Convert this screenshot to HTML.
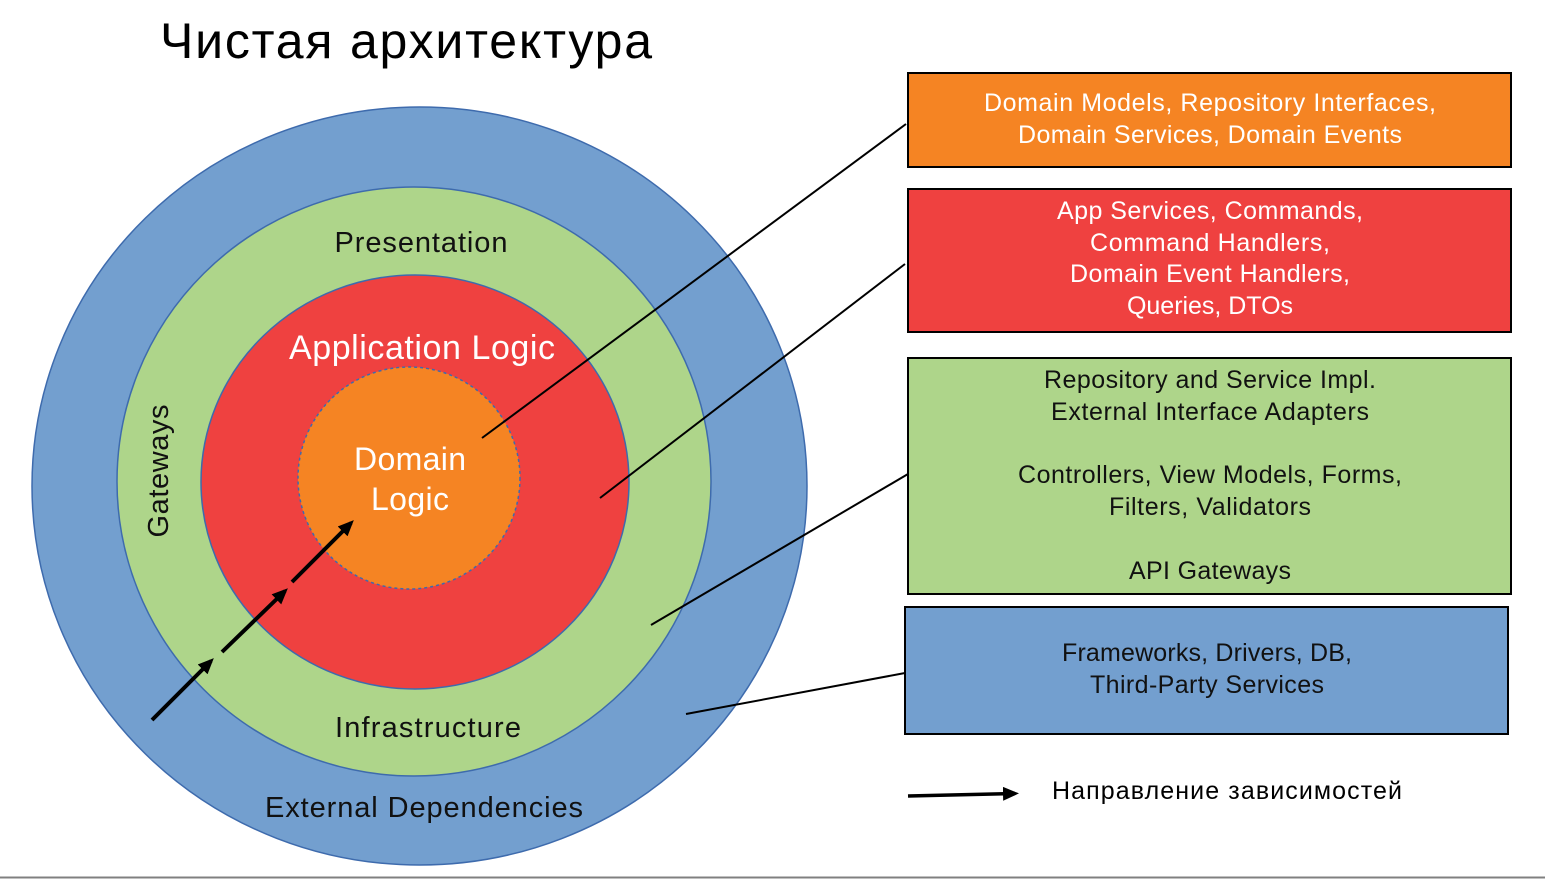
<!DOCTYPE html>
<html><head><meta charset="utf-8"><style>
html,body{margin:0;padding:0;background:#fff}
svg{display:block}
text{font-family:"Liberation Sans",sans-serif}
</style></head><body>
<svg width="1545" height="879" viewBox="0 0 1545 879" xmlns="http://www.w3.org/2000/svg">
<defs>
<marker id="ah" markerWidth="16" markerHeight="14" refX="12" refY="7" orient="auto" markerUnits="userSpaceOnUse" viewBox="0 0 16 14">
<path d="M0,0 L16,7 L0,14 z" fill="#000"/></marker>
</defs>
<rect width="1545" height="879" fill="#fff"/>
<line x1="0" y1="877.5" x2="1545" y2="877.5" stroke="#808080" stroke-width="2"/>
<text x="160" y="58" font-size="50" fill="#000" textLength="492">Чистая архитектура</text>

<ellipse cx="419.5" cy="486" rx="387.5" ry="379" fill="#739fcf" stroke="#3e6bad" stroke-width="1.5"/>
<ellipse cx="414" cy="481.5" rx="297" ry="294.5" fill="#aed58a" stroke="#3e6bad" stroke-width="1.5"/>
<ellipse cx="415" cy="482" rx="214" ry="207" fill="#ef4140" stroke="#3e6bad" stroke-width="1.5"/>
<circle cx="409" cy="478" r="111" fill="#f58423" stroke="#3e6bad" stroke-width="1.5" stroke-dasharray="3,3"/>

<text x="421" y="252" font-size="29" text-anchor="middle" fill="#111" textLength="173">Presentation</text>
<text x="422" y="359" font-size="34" text-anchor="middle" fill="#fff" textLength="266">Application Logic</text>
<text x="410" y="470" font-size="32" text-anchor="middle" fill="#fff" textLength="112">Domain</text>
<text x="410" y="510" font-size="32" text-anchor="middle" fill="#fff" textLength="78">Logic</text>
<text x="428" y="737" font-size="29" text-anchor="middle" fill="#111" textLength="186">Infrastructure</text>
<text x="424" y="817" font-size="29" text-anchor="middle" fill="#111" textLength="318">External Dependencies</text>
<text transform="translate(168,471) rotate(-90)" font-size="29" text-anchor="middle" fill="#111" textLength="133">Gateways</text>

<g stroke="#000" stroke-width="4" marker-end="url(#ah)">
<line x1="152" y1="720" x2="211" y2="661"/>
<line x1="222" y1="652" x2="285" y2="591"/>
<line x1="292" y1="582" x2="351" y2="523"/>
</g>
<line x1="908" y1="796" x2="1015" y2="793.5" stroke="#000" stroke-width="3.5" marker-end="url(#ah)"/>
<text x="1052" y="799" font-size="25" fill="#000" textLength="350">Направление зависимостей</text>

<g stroke="#000" stroke-width="2">
<line x1="482" y1="438" x2="906" y2="124"/>
<line x1="600" y1="498" x2="905" y2="264"/>
<line x1="651" y1="625" x2="908" y2="474"/>
<line x1="686" y1="714" x2="905" y2="673"/>
</g>

<rect x="908" y="73" width="603" height="94" fill="#f58423" stroke="#000" stroke-width="2"/>
<rect x="908" y="189" width="603" height="143" fill="#ef4140" stroke="#000" stroke-width="2"/>
<rect x="908" y="358" width="603" height="236" fill="#aed58a" stroke="#000" stroke-width="2"/>
<rect x="905" y="607" width="603" height="127" fill="#739fcf" stroke="#000" stroke-width="2"/>

<g font-size="25" text-anchor="middle" fill="#fff">
<text x="1210" y="111" textLength="452">Domain Models, Repository Interfaces,</text>
<text x="1210" y="143" textLength="384">Domain Services, Domain Events</text>
<text x="1210" y="219" textLength="306">App Services, Commands,</text>
<text x="1210" y="251" textLength="240">Command Handlers,</text>
<text x="1210" y="282" textLength="280">Domain Event Handlers,</text>
<text x="1210" y="314" textLength="166">Queries, DTOs</text>
</g>
<g font-size="25" text-anchor="middle" fill="#111">
<text x="1210" y="388" textLength="332">Repository and Service Impl.</text>
<text x="1210" y="420" textLength="318">External Interface Adapters</text>
<text x="1210" y="483" textLength="384">Controllers, View Models, Forms,</text>
<text x="1210" y="515" textLength="202">Filters, Validators</text>
<text x="1210" y="579" textLength="162">API Gateways</text>
<text x="1207" y="661" textLength="290">Frameworks, Drivers, DB,</text>
<text x="1207" y="693" textLength="234">Third-Party Services</text>
</g>
</svg>
</body></html>
